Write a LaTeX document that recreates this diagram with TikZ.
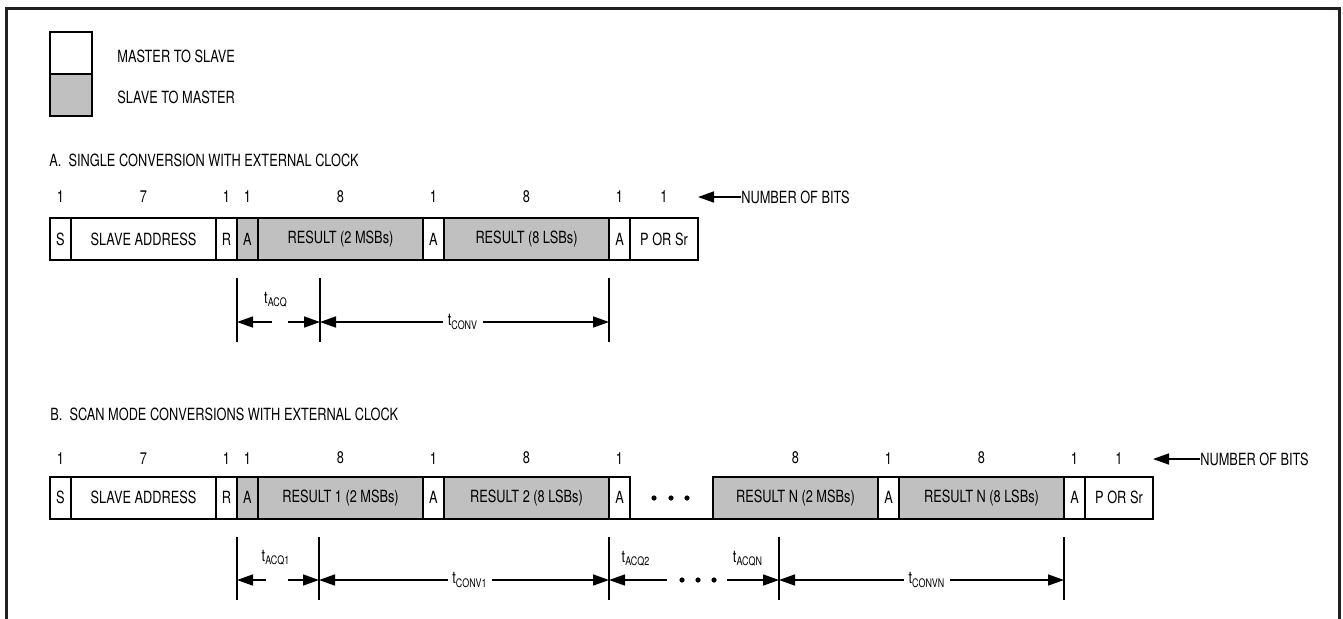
\documentclass[tikz,border=0pt]{standalone}
\usepackage{fontspec}
\setmainfont{TeX Gyre Heros}[FakeStretch=0.76]
\usetikzlibrary{positioning,arrows.meta}
\definecolor{slavegray}{RGB}{192,192,192}
\definecolor{framegray}{RGB}{35,31,32}

\begin{document}
\begin{tikzpicture}[
x=0.5pt,y=-0.5pt,
node distance=0pt,
font=\fontsize{8.4}{10}\selectfont,
fld/.style={draw,line width=1pt,inner sep=0pt,outer sep=0pt,minimum width=10.5pt,minimum height=21pt,fill=white},
s2m/.style={fill=slavegray},
addr/.style={minimum width=72.5pt},
byte/.style={minimum width=82.5pt},
stopbox/.style={minimum width=34pt},
bits/.style={inner sep=0pt},
lbl/.style={inner sep=0pt,anchor=west},
tick/.style={line width=0.8pt},
dim/.style={line width=0.8pt},
tlbl/.style={inner sep=2pt},
>={Triangle[length=8pt,width=5.5pt]}]
\useasboundingbox (0,0) rectangle (1343,618);
\draw[line width=1.5pt,framegray] (6,640) -- (6,8) -- (1339,8) -- (1339,640);

% legend
\node[fld,minimum width=21pt] (ms) at (71,53) {};
\node[fld,s2m,minimum width=21pt,below=of ms] (sm) {};
\node[lbl,right=12.5pt of ms,yshift=-1.5pt] (mstxt) {MASTER TO SLAVE};
\node[lbl,right=12.5pt of sm,yshift=-1pt] (smtxt) {SLAVE TO MASTER};

% A. single conversion
\node[lbl] (ttlA) at (49,160) {A.\ \ SINGLE CONVERSION WITH EXTERNAL CLOCK};
\node[fld] (sA) at (60.5,239) {S};
\node[fld,addr,right=of sA] (adA) {SLAVE ADDRESS};
\node[fld,right=of adA] (rA) {R};
\node[fld,s2m,right=of rA] (ackA1) {A};
\node[fld,s2m,byte,right=of ackA1] (msbA) {RESULT (2 MSBs)};
\node[fld,right=of msbA] (ackA2) {A};
\node[fld,s2m,byte,right=of ackA2] (lsbA) {RESULT (8 LSBs)};
\node[fld,right=of lsbA] (ackA3) {A};
\node[fld,stopbox,right=of ackA3] (pA) {P OR Sr};
\foreach \f/\n in {sA/1,adA/7,rA/1,ackA1/1,msbA/8,ackA2/1,lsbA/8,ackA3/1,pA/1}
  \node[bits,above=7.5pt of \f] (n\f) {\n};
\node[lbl] (nbA) at (741,197) {NUMBER OF BITS};
\draw[dim,->] (nbA.west) -- (nbA.west -| pA.east);

\coordinate (cA1) at (237,322);
\coordinate (cA2) at (320,322);
\coordinate (cA3) at (609,322);
\coordinate (gA1) at (272,322);
\coordinate (gA2) at (288,322);
\foreach \c in {cA1,cA2,cA3}
  \draw[tick] ([yshift=22pt]\c) -- ([yshift=-10pt]\c);
\node[tlbl] (tacq) at (276,300) {t\textsubscript{ACQ}};
\node[tlbl] (tconv) at (463,322) {t\textsubscript{CONV}};
\draw[dim,<-] (cA1) -- (gA1);
\draw[dim,->] (gA2) -- (cA2);
\draw[dim,<-] (cA2) -- (cA2 -| tconv.west);
\draw[dim,->] (cA3 -| tconv.east) -- (cA3);

% B. scan mode
\node[lbl] (ttlB) at (50,414) {B.\ \ SCAN MODE CONVERSIONS WITH EXTERNAL CLOCK};
\node[fld] (sB) at (60.5,497.5) {S};
\node[fld,addr,right=of sB] (adB) {SLAVE ADDRESS};
\node[fld,right=of adB] (rB) {R};
\node[fld,s2m,right=of rB] (ackB1) {A};
\node[fld,s2m,byte,right=of ackB1] (msbB1) {RESULT 1 (2 MSBs)};
\node[fld,right=of msbB1] (ackB2) {A};
\node[fld,s2m,byte,right=of ackB2] (lsbB2) {RESULT 2 (8 LSBs)};
\node[fld,right=of lsbB2] (ackB3) {A};
\node[fld,s2m,byte,right=41.5pt of ackB3] (msbBN) {RESULT N (2 MSBs)};
\node[fld,right=of msbBN] (ackB4) {A};
\node[fld,s2m,byte,right=of ackB4] (lsbBN) {RESULT N (8 LSBs)};
\node[fld,right=of lsbBN] (ackB5) {A};
\node[fld,stopbox,right=of ackB5] (pB) {P OR Sr};
\draw[line width=1pt] (ackB3.south east) -- (msbBN.south west);
\foreach \x in {654,671,687}
  \fill (\x,498) circle (1.3pt);
\foreach \f/\n in {sB/1,adB/7,rB/1,ackB1/1,msbB1/8,ackB2/1,lsbB2/8,ackB3/1,msbBN/8,ackB4/1,lsbBN/8,ackB5/1,pB/1}
  \node[bits,above=6pt of \f] (n\f) {\n};
\node[lbl] (nbB) at (1200,459) {NUMBER OF BITS};
\draw[dim,->] (nbB.west) -- (nbB.west -| pB.east);

\coordinate (cB1) at (237,580);
\coordinate (cB2) at (319,580);
\coordinate (cB3) at (609,580);
\coordinate (cB4) at (779,580);
\coordinate (cB5) at (1064,580);
\coordinate (gB1) at (266,580);
\coordinate (gB2) at (288,580);
\coordinate (gB3) at (667,580);
\coordinate (gB4) at (727,580);
\foreach \c in {cB1,cB2,cB3,cB4,cB5}
  \draw[tick] ([yshift=21.5pt]\c) -- ([yshift=-10pt]\c);
\node[tlbl] (tacq1) at (276,558) {t\textsubscript{ACQ1}};
\node[tlbl] (tconv1) at (470,580) {t\textsubscript{CONV1}};
\node[tlbl] (tacq2) at (636,559) {t\textsubscript{ACQ2}};
\node[tlbl] (tacqn) at (748,559) {t\textsubscript{ACQN}};
\node[tlbl] (tconvn) at (927,580) {t\textsubscript{CONVN}};
\draw[dim,<-] (cB1) -- (gB1);
\draw[dim,->] (gB2) -- (cB2);
\draw[dim,<-] (cB2) -- (cB2 -| tconv1.west);
\draw[dim,->] (cB3 -| tconv1.east) -- (cB3);
\draw[dim,<-] (cB3) -- (gB3);
\foreach \x in {682,698,714}
  \fill (\x,580) circle (1.3pt);
\draw[dim,->] (gB4) -- (cB4);
\draw[dim,<-] (cB4) -- (cB4 -| tconvn.west);
\draw[dim,->] (cB5 -| tconvn.east) -- (cB5);
\end{tikzpicture}
\end{document}
